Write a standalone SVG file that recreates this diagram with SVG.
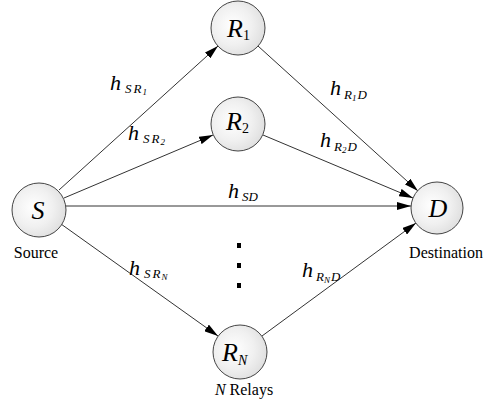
<svg xmlns="http://www.w3.org/2000/svg" width="493" height="408" viewBox="0 0 493 408">
<style>
.node{stroke:#444;stroke-width:1;fill:url(#g)}
.edge{stroke:#333;stroke-width:1;fill:none}
</style>
<defs>
<radialGradient id="g" cx="0.4" cy="0.45" r="0.6">
<stop offset="0" stop-color="#ffffff"/>
<stop offset="0.6" stop-color="#f0f0f0"/>
<stop offset="1" stop-color="#e0e0e0"/>
</radialGradient>
<marker id="a" viewBox="0 0 14 8" refX="14" refY="4" markerWidth="14" markerHeight="8" markerUnits="userSpaceOnUse" orient="auto">
<path d="M0,0 L14,4 L0,8 Z" fill="#000"/>
</marker>
</defs>
<g id="connectors" marker-end="url(#a)">
<line class="edge" x1="59" y1="190" x2="218" y2="46"/>
<line class="edge" x1="64" y1="198" x2="213" y2="135"/>
<line class="edge" x1="66" y1="206" x2="411" y2="206"/>
<line class="edge" x1="61" y1="224" x2="218" y2="336"/>
<line class="edge" x1="258" y1="46" x2="418" y2="191"/>
<line class="edge" x1="263" y1="135" x2="413" y2="198"/>
<line class="edge" x1="262" y1="336" x2="416" y2="223"/>
</g>
<g id="labels" font-family="Liberation Serif" font-style="italic" fill="#000">
<text font-family="Liberation Serif" x="110" y="90"><tspan font-size="22">h</tspan><tspan font-size="13" letter-spacing="2" dy="3" dx="4">SR</tspan><tspan font-size="9" dy="2" dx="-1">1</tspan></text>
<text font-family="Liberation Serif" x="128" y="140"><tspan font-size="22">h</tspan><tspan font-size="13" letter-spacing="2" dy="3" dx="4">SR</tspan><tspan font-size="9" dy="2" dx="-1">2</tspan></text>
<text font-family="Liberation Serif" x="228" y="198"><tspan font-size="22">h</tspan><tspan font-size="13" dy="3" dx="3">SD</tspan></text>
<text font-family="Liberation Serif" x="129" y="275"><tspan font-size="22">h</tspan><tspan font-size="13" letter-spacing="2" dy="3" dx="4">SR</tspan><tspan font-size="9" dy="2" dx="-1">N</tspan></text>
<text font-family="Liberation Serif" x="330" y="95"><tspan font-size="22">h</tspan><tspan font-size="13" dy="4" dx="3">R</tspan><tspan font-size="9" dy="2">1</tspan><tspan font-size="13" dy="-2" dx="1">D</tspan></text>
<text font-family="Liberation Serif" x="320" y="147"><tspan font-size="22">h</tspan><tspan font-size="13" dy="4" dx="3">R</tspan><tspan font-size="9" dy="2">2</tspan><tspan font-size="13" dy="-2" dx="1">D</tspan></text>
<text font-family="Liberation Serif" x="302" y="277"><tspan font-size="22">h</tspan><tspan font-size="13" dy="4" dx="3">R</tspan><tspan font-size="9" dy="2">N</tspan><tspan font-size="13" dy="-2" dx="1">D</tspan></text>
</g>
<g id="S">
<circle class="node" cx="39" cy="210" r="27"/>
<text font-family="Liberation Serif" font-style="italic" font-size="26" x="38" y="219" text-anchor="middle">S</text>
<text font-family="Liberation Serif" font-size="16" x="36" y="258" text-anchor="middle">Source</text>
</g>
<g id="R1">
<circle class="node" cx="238" cy="28" r="27"/>
<text font-family="Liberation Serif" font-style="italic" font-size="26" x="227" y="37">R<tspan font-size="14" dy="3" font-style="normal">1</tspan></text>
</g>
<g id="R2">
<circle class="node" cx="238" cy="124" r="27"/>
<text font-family="Liberation Serif" font-style="italic" font-size="26" x="226" y="130">R<tspan font-size="14" dy="3" font-style="normal">2</tspan></text>
</g>
<g id="RN">
<circle class="node" cx="240" cy="352" r="27"/>
<text font-family="Liberation Serif" font-style="italic" font-size="26" x="222" y="361">R<tspan font-size="14" dy="4">N</tspan></text>
<text font-family="Liberation Serif" font-size="16" x="244" y="395" text-anchor="middle"><tspan font-style="italic">N</tspan> Relays</text>
</g>
<g id="D">
<circle class="node" cx="437" cy="208" r="26"/>
<text font-family="Liberation Serif" font-style="italic" font-size="26" x="438" y="217" text-anchor="middle">D</text>
<text font-family="Liberation Serif" font-size="16" x="446" y="258" text-anchor="middle">Destination</text>
</g>
<g id="dots" fill="#000">
<rect x="237" y="243" width="4" height="5"/>
<rect x="237" y="263" width="4" height="5"/>
<rect x="237" y="283" width="4" height="5"/>
</g>
</svg>
